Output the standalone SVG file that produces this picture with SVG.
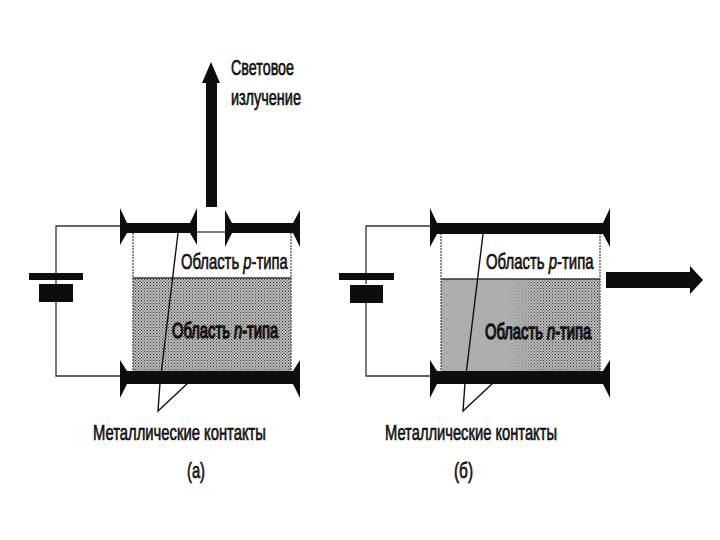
<svg xmlns="http://www.w3.org/2000/svg" width="720" height="540" viewBox="0 0 720 540">
<style>
text{font-family:"Liberation Sans Narrow","Liberation Sans",Arial,sans-serif;fill:#111;font-size:22px;stroke:#111;stroke-width:.7px}
.it{font-style:italic}
.reg{font-size:19px;stroke-width:.6px}
.heavy{font-size:19px;stroke-width:1.1px}
.wire{fill:none;stroke:#333;stroke-width:1.3}
.edge{fill:none;stroke:#444;stroke-width:1.2;stroke-dasharray:2 1}
.lead{fill:none;stroke:#111;stroke-width:1.4}
.ink{fill:#0d0d0d}
</style>
<defs>
<pattern id="dots" width="3" height="3" patternUnits="userSpaceOnUse">
<rect width="3" height="3" fill="#bcbcbc"/><rect width="1" height="1" fill="#333"/><rect x="1.5" y="1.5" width="1" height="1" fill="#444"/>
</pattern>
<linearGradient id="fade" x1="0" x2="1" y1="0" y2="0">
<stop offset="0" stop-color="#aeaeae"/><stop offset=".42" stop-color="#aeaeae"/><stop offset=".65" stop-color="#aeaeae" stop-opacity="0"/>
</linearGradient>
</defs>
<rect width="720" height="540" fill="#fff"/>
<g id="region-a">
<rect x="133" y="278" width="158" height="95" fill="url(#dots)"/>
<path class="edge" d="M133 233V373M291 233V373"/>
<path d="M133 278H291" stroke="#333" stroke-width="1.5"/>
</g>
<g id="region-b">
<rect x="441" y="279" width="159" height="94" fill="url(#dots)"/>
<rect x="441" y="279" width="159" height="94" fill="url(#fade)"/>
<path class="edge" d="M441 233V373M600 233V373"/>
<path d="M441 279H600" stroke="#333" stroke-width="1.5"/>
</g>
<g id="connectors">
<path class="wire" d="M56 284V226H120M56 302V376H120"/>
<path class="wire" d="M366 284V226H430M366 302V376H430"/>
<path class="wire" d="M197 232H225"/>
<path class="lead" d="M178 233L160 383L158 411L188 383"/>
<path class="lead" d="M483 234L465 383L463 411L493 383"/>
</g>
<g id="contact-a-top-left"><path class="ink" d="M120 208L127 223H190L197 208V245L190 233H127L120 245Z"/></g>
<g id="contact-a-top-right"><path class="ink" d="M225 210L232 223H293L300 210V247L293 233H232L225 247Z"/></g>
<g id="contact-a-bottom"><path class="ink" d="M120 360L127 371H293L300 360V398L293 384H127L120 398Z"/></g>
<g id="contact-b-top"><path class="ink" d="M430 208L437 223H603L610 208V247L603 234H437L430 247Z"/></g>
<g id="contact-b-bottom"><path class="ink" d="M430 360L437 371H603L610 360V398L603 384H437L430 398Z"/></g>
<g id="battery-a"><rect class="ink" x="29" y="273" width="54" height="7"/><rect class="ink" x="39" y="284" width="34" height="18"/></g>
<g id="battery-b"><rect class="ink" x="339" y="273" width="55" height="7"/><rect class="ink" x="350" y="285" width="33" height="18"/></g>
<g id="arrow-up"><path class="ink" d="M206 207V83H202L211 62L220 83H217V207Z"/></g>
<g id="arrow-right"><path class="ink" d="M606 272H690V266L703 280L690 294V288H606Z"/></g>
<g id="labels">
<text x="231" y="75" textLength="63" lengthAdjust="spacingAndGlyphs">Световое</text>
<text x="231" y="105" textLength="70" lengthAdjust="spacingAndGlyphs">излучение</text>
<text class="reg" transform="translate(181 269) scale(.78 1.15)">Область <tspan class="it">p</tspan>-типа</text>
<text class="heavy" transform="translate(172 338) scale(.777 1.15)">Область <tspan class="it">n</tspan>-типа</text>
<text class="reg" transform="translate(486 269) scale(.786 1.15)">Область <tspan class="it">p</tspan>-типа</text>
<text class="heavy" transform="translate(485 339) scale(.777 1.15)">Область <tspan class="it">n</tspan>-типа</text>
<text x="93" y="440" textLength="173" lengthAdjust="spacingAndGlyphs">Металлические контакты</text>
<text x="385" y="440" textLength="172" lengthAdjust="spacingAndGlyphs">Металлические контакты</text>
<text x="187" y="478" textLength="18" lengthAdjust="spacingAndGlyphs">(а)</text>
<text x="454" y="478" textLength="19" lengthAdjust="spacingAndGlyphs">(б)</text>
</g>
</svg>
